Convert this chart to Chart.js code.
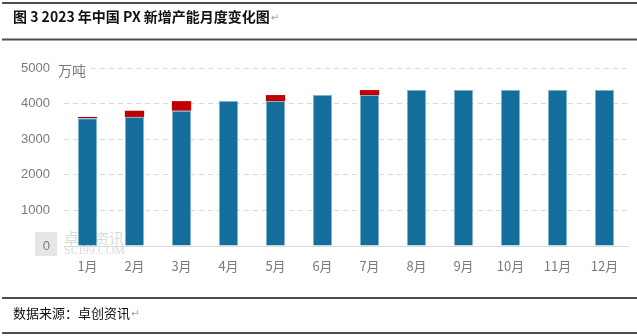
<!DOCTYPE html>
<html>
<head>
<meta charset="utf-8">
<script src="https://cdn.jsdelivr.net/npm/chart.js@4.4.0/dist/chart.umd.min.js"></script>
<style>
  html, body { margin: 0; padding: 0; background: #fff; }
  #wrap { width: 637px; height: 336px; position: relative; }
</style>
</head>
<body>
<div id="wrap"><canvas id="pxChart" width="637" height="336"></canvas></div>
<script>
// months, existing capacity and newly added capacity (万吨)
const months = ["1月", "2月", "3月", "4月", "5月", "6月", "7月", "8月", "9月", "10月", "11月", "12月"];
const baseCapacity = [3590, 3625, 3800, 4070, 4070, 4240, 4240, 4380, 4380, 4380, 4380, 4380];
const newCapacity = [35, 175, 270, 0, 170, 0, 140, 0, 0, 0, 0, 0];
const yTicks = [0, 1000, 2000, 3000, 4000, 5000];

const titleText = "图 3 2023 年中国 PX 新增产能月度变化图";
const sourceText = "数据来源：卓创资讯";
const unitText = "万吨";

const CJK = '"Noto Sans CJK SC", "Liberation Sans", sans-serif';

// page frame: title, rules, source line, unit label and watermark
const framePlugin = {
    id: "frame",
    beforeDraw(chart) {
        const ctx = chart.ctx;
        ctx.save();
        // faint watermark, under the axis labels and bars
        ctx.fillStyle = "#e6e6e6";
        ctx.fillRect(35, 232, 22, 24);
        ctx.fillStyle = "#d9d9d9";
        ctx.font = "15px " + CJK;
        ctx.textBaseline = "middle";
        ctx.fillText("卓创资讯", 64, 238);
        ctx.font = "12px 'Liberation Serif', serif";
        ctx.fillText("SCI99.COM", 64, 251);
        ctx.restore();
    },
    afterDraw(chart) {
        const ctx = chart.ctx;
        const w = chart.width;
        ctx.save();

        // horizontal rules
        ctx.strokeStyle = "#4d4d4d";
        ctx.lineWidth = 2;
        [3, 39.5, 298, 333].forEach(y => {
            ctx.beginPath();
            ctx.moveTo(2, y);
            ctx.lineTo(w, y);
            ctx.stroke();
        });

        // title
        ctx.fillStyle = "#111";
        ctx.font = "bold 14px " + CJK;
        ctx.textBaseline = "middle";
        ctx.fillText(titleText, 13, 17);
        let tw = ctx.measureText(titleText).width;
        ctx.fillStyle = "#999";
        ctx.font = "10px 'DejaVu Sans', sans-serif";
        ctx.fillText("↵", 13 + tw + 1, 18);

        // source line
        ctx.fillStyle = "#111";
        ctx.font = "13px " + CJK;
        ctx.fillText(sourceText, 13, 313);
        tw = ctx.measureText(sourceText).width;
        ctx.fillStyle = "#999";
        ctx.font = "10px 'DejaVu Sans', sans-serif";
        ctx.fillText("↵", 13 + tw + 1, 314);

        // unit label sits on top of the 5000 gridline
        ctx.fillStyle = "#fff";
        ctx.fillRect(55, 60, 35, 20);
        ctx.fillStyle = "#7a7a7a";
        ctx.font = "14px " + CJK;
        ctx.fillText(unitText, 58, 71);

        ctx.restore();
    }
};

new Chart(document.getElementById("pxChart").getContext("2d"), {
    type: "bar",
    data: {
        labels: months,
        datasets: [
            {
                label: "existing",
                data: baseCapacity,
                backgroundColor: "#136e9b",
                borderColor: "#7fb3cf",
                borderWidth: { left: 1, right: 1, top: 1, bottom: 0 },
                borderSkipped: false
            },
            {
                label: "new",
                data: newCapacity,
                backgroundColor: "#c00000",
                borderWidth: 0
            }
        ]
    },
    options: {
        responsive: false,
        animation: false,
        devicePixelRatio: 1,
        layout: { padding: { left: 8, right: 9, top: 68, bottom: 60 } },
        datasets: { bar: { barPercentage: 0.41, categoryPercentage: 1 } },
        plugins: {
            legend: { display: false },
            tooltip: { enabled: false }
        },
        scales: {
            x: {
                stacked: true,
                grid: { display: false, drawTicks: false },
                border: { display: true, color: "#d9d9d9", width: 1 },
                ticks: {
                    color: "#7a7a7a",
                    padding: 12,
                    font: { family: CJK, size: 13 }
                },
                afterFit: scale => { scale.height = 30; }
            },
            y: {
                stacked: true,
                min: 0,
                max: 5000,
                afterBuildTicks: scale => { scale.ticks = yTicks.map(v => ({ value: v })); },
                grid: {
                    drawTicks: false,
                    color: c => c.tick && c.tick.value === 0 ? "rgba(0,0,0,0)" : "#d9d9d9",
                    lineWidth: 1
                },
                border: { display: false, dash: [5, 4] },
                ticks: {
                    color: "#7a7a7a",
                    padding: 14,
                    font: { family: "'Liberation Sans', sans-serif", size: 13 },
                    callback: v => String(v)
                },
                afterFit: scale => { scale.width = 56; }
            }
        }
    },
    plugins: [framePlugin]
});
</script>
</body>
</html>
